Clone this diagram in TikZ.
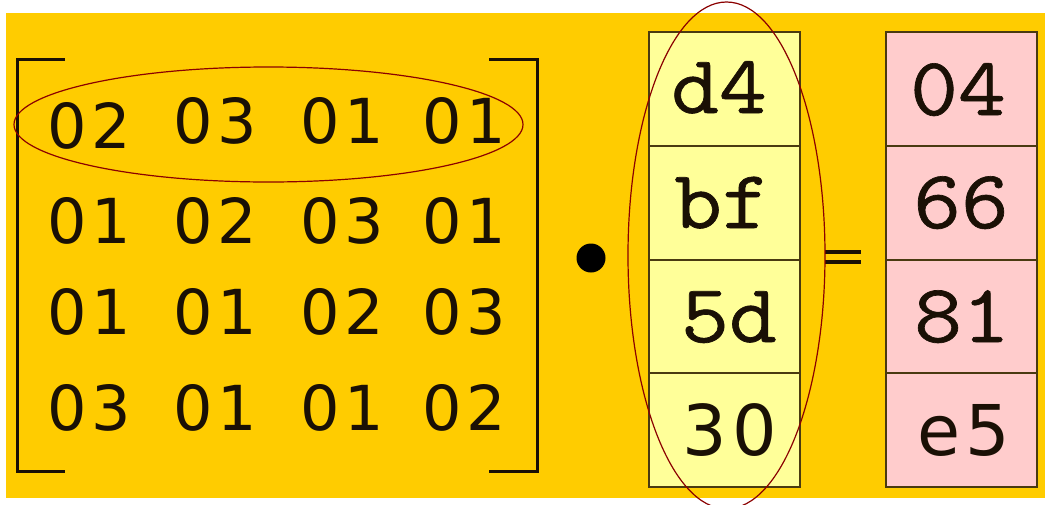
\documentclass[tikz,border=0pt]{standalone}
\usepackage{fontspec}
\newfontfamily\matfont[LetterSpace=8]{DejaVu Sans}
\newfontfamily\boxsans[LetterSpace=8]{DejaVu Sans}
\newfontfamily\sermono[FakeStretch=1.12,FakeBold=0.8]{Latin Modern Mono}
\definecolor{bg}{HTML}{FFCC00}
\definecolor{ink}{HTML}{1A1005}
\definecolor{edge}{HTML}{4A3A10}
\definecolor{cellY}{HTML}{FFFF99}
\definecolor{cellR}{HTML}{FFCCCC}
\definecolor{ring}{HTML}{8B0000}
\tikzset{
  mat/.style={anchor=base, inner sep=0pt, text=ink, font=\matfont\fontsize{62}{62}\selectfont},
  boxtxt/.style={anchor=base, inner sep=0pt, text=ink, font=\sermono\fontsize{83}{83}\selectfont},
  boxtxs/.style={anchor=base, inner sep=0pt, text=ink, font=\boxsans\fontsize{70}{70}\selectfont},
  cellbase/.style={draw=edge, line width=2pt, minimum width=151pt, minimum height=113.75pt, inner sep=0pt, anchor=north west},
  ycell/.style={cellbase, fill=cellY},
  rcell/.style={cellbase, fill=cellR},
  bracket/.style={draw=ink, line width=3pt},
  ringline/.style={draw=ring, line width=1.2pt}
}
\begin{document}
\begin{tikzpicture}[x=1pt,y=-1pt]
\useasboundingbox (0,0) rectangle (1045,504);
\fill[white] (0,0) rectangle (1045,504);
\fill[bg] (6,13) rectangle (1045,498);
% brackets
\coordinate (lb1) at (65,59); \coordinate (lb2) at (17,59);
\coordinate (lb3) at (17,471); \coordinate (lb4) at (65,471);
\draw[bracket] (lb1) -- (lb2) -- (lb3) -- (lb4);
\coordinate (rb1) at (489,59); \coordinate (rb2) at (537,59);
\coordinate (rb3) at (537,471); \coordinate (rb4) at (489,471);
\draw[bracket] (rb1) -- (rb2) -- (rb3) -- (rb4);
% matrix entries
\node[mat] (a11) at (89,148) {02};
\node[mat] (a12) at (215,143) {03};
\node[mat] (a13) at (342,143) {01};
\node[mat] (a14) at (464,143) {01};
\node[mat] (a21) at (89,243) {01};
\node[mat] (a22) at (215,243) {02};
\node[mat] (a23) at (342,243) {03};
\node[mat] (a24) at (464,243) {01};
\node[mat] (a31) at (89,334) {01};
\node[mat] (a32) at (215,334) {01};
\node[mat] (a33) at (342,334) {02};
\node[mat] (a34) at (464,334) {03};
\node[mat] (a41) at (89,430) {03};
\node[mat] (a42) at (215,430) {01};
\node[mat] (a43) at (342,430) {01};
\node[mat] (a44) at (464,430) {02};
% dot
\fill[black] (591,258) circle (14.5pt);
% column vector
\node[ycell] (y1) at (648,31) {};
\node[ycell] (y2) at (648,144.75) {};
\node[ycell] (y3) at (648,258.5) {};
\node[ycell] (y4) at (648,372.25) {};
\node[boxtxt] (t1) at (719,113) {d4};
\node[boxtxt] (t2) at (722,228) {bf};
\node[boxtxt] (t3) at (729,342) {5d};
\node[boxtxs] (t4) at (730,455) {30};
% equals
\coordinate (e1) at (825,252); \coordinate (e2) at (861,252);
\coordinate (e3) at (825,262); \coordinate (e4) at (861,262);
\draw[ink, line width=4.5pt] (e1) -- (e2);
\draw[ink, line width=4.5pt] (e3) -- (e4);
% result vector
\node[rcell] (r1) at (885,31) {};
\node[rcell] (r2) at (885,144.75) {};
\node[rcell] (r3) at (885,258.5) {};
\node[rcell] (r4) at (885,372.25) {};
\node[boxtxt] (s1) at (958,115) {04};
\node[boxtxt] (s2) at (961,228) {66};
\node[boxtxt] (s3) at (962,342) {81};
\node[boxtxs] (s4) at (964,455) {e5};
% highlight ellipses
\draw[ringline] (268.5,124.5) ellipse [x radius=254.5pt, y radius=57.5pt];
\draw[ringline] (726.5,255.4) ellipse [x radius=98.5pt, y radius=253.4pt];
\end{tikzpicture}
\end{document}
